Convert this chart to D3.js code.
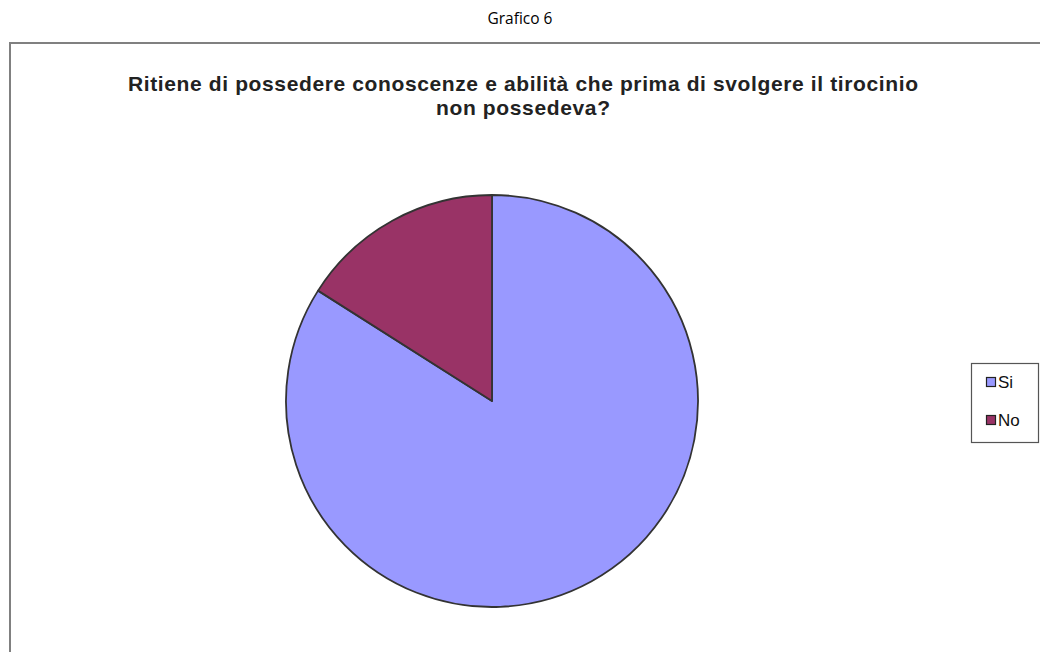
<!DOCTYPE html>
<html><head><meta charset="utf-8">
<script src="https://cdn.jsdelivr.net/npm/d3@7"></script>
<style>body{margin:0;background:#fff}svg{display:block}</style>
</head><body>
<svg id="c" width="1040" height="652"></svg>
<script>
const categories = ["Si", "No"];
const values = [84, 16];
const colors = ["#9999FF", "#993366"];
const pageTitle = "Grafico 6";
const titleLines = ["Ritiene di possedere conoscenze e abilità che prima di svolgere il tirocinio", "non possedeva?"];
const titleWidths = [790, 174];

const svg = d3.select("#c");
svg.append("text").attr("x", 520).attr("y", 24).attr("text-anchor", "middle")
  .attr("font-family", "Open Sans, Liberation Sans, sans-serif").attr("font-size", 15.5).attr("fill", "#000").text(pageTitle);

svg.append("rect").attr("x", 10).attr("y", 43).attr("width", 1040).attr("height", 640)
  .attr("fill", "#fff").attr("stroke", "#808080").attr("stroke-width", 2);

svg.selectAll("text.t").data(titleLines).join("text").attr("class", "t")
  .attr("x", 523).attr("y", (d, i) => 91 + i * 24).attr("text-anchor", "middle")
  .attr("font-family", "Liberation Sans, Arial, sans-serif").attr("font-weight", "bold")
  .attr("font-size", 21).attr("fill", "#222")
  .attr("textLength", (d, i) => titleWidths[i]).attr("lengthAdjust", "spacing")
  .text(d => d);

const cx = 492, cy = 401, r = 206;
const pie = d3.pie().sort(null).startAngle(0).endAngle(2 * Math.PI);
const arcs = pie(values);
const arc = d3.arc().innerRadius(0).outerRadius(r);
svg.append("g").attr("transform", `translate(${cx},${cy})`)
  .selectAll("path").data(arcs).join("path")
  .attr("d", arc).attr("fill", (d, i) => colors[i])
  .attr("stroke", "#333").attr("stroke-width", 1.8).attr("stroke-linejoin", "round");

const lg = svg.append("g");
lg.append("rect").attr("x", 971.5).attr("y", 363.5).attr("width", 67).attr("height", 79)
  .attr("fill", "#fff").attr("stroke", "#555").attr("stroke-width", 1.2);
const items = lg.selectAll("g.it").data(categories).join("g").attr("class", "it")
  .attr("transform", (d, i) => `translate(986,${377 + i * 38})`);
items.append("rect").attr("x", 0.5).attr("y", 0.5).attr("width", 9).attr("height", 9)
  .attr("fill", (d, i) => colors[i]).attr("stroke", "#222").attr("stroke-width", 1.2);
items.append("text").attr("x", 12).attr("y", 11).attr("font-family", "Liberation Sans, Arial, sans-serif")
  .attr("font-size", 17).attr("fill", "#111").text(d => d);
</script>
</body></html>
